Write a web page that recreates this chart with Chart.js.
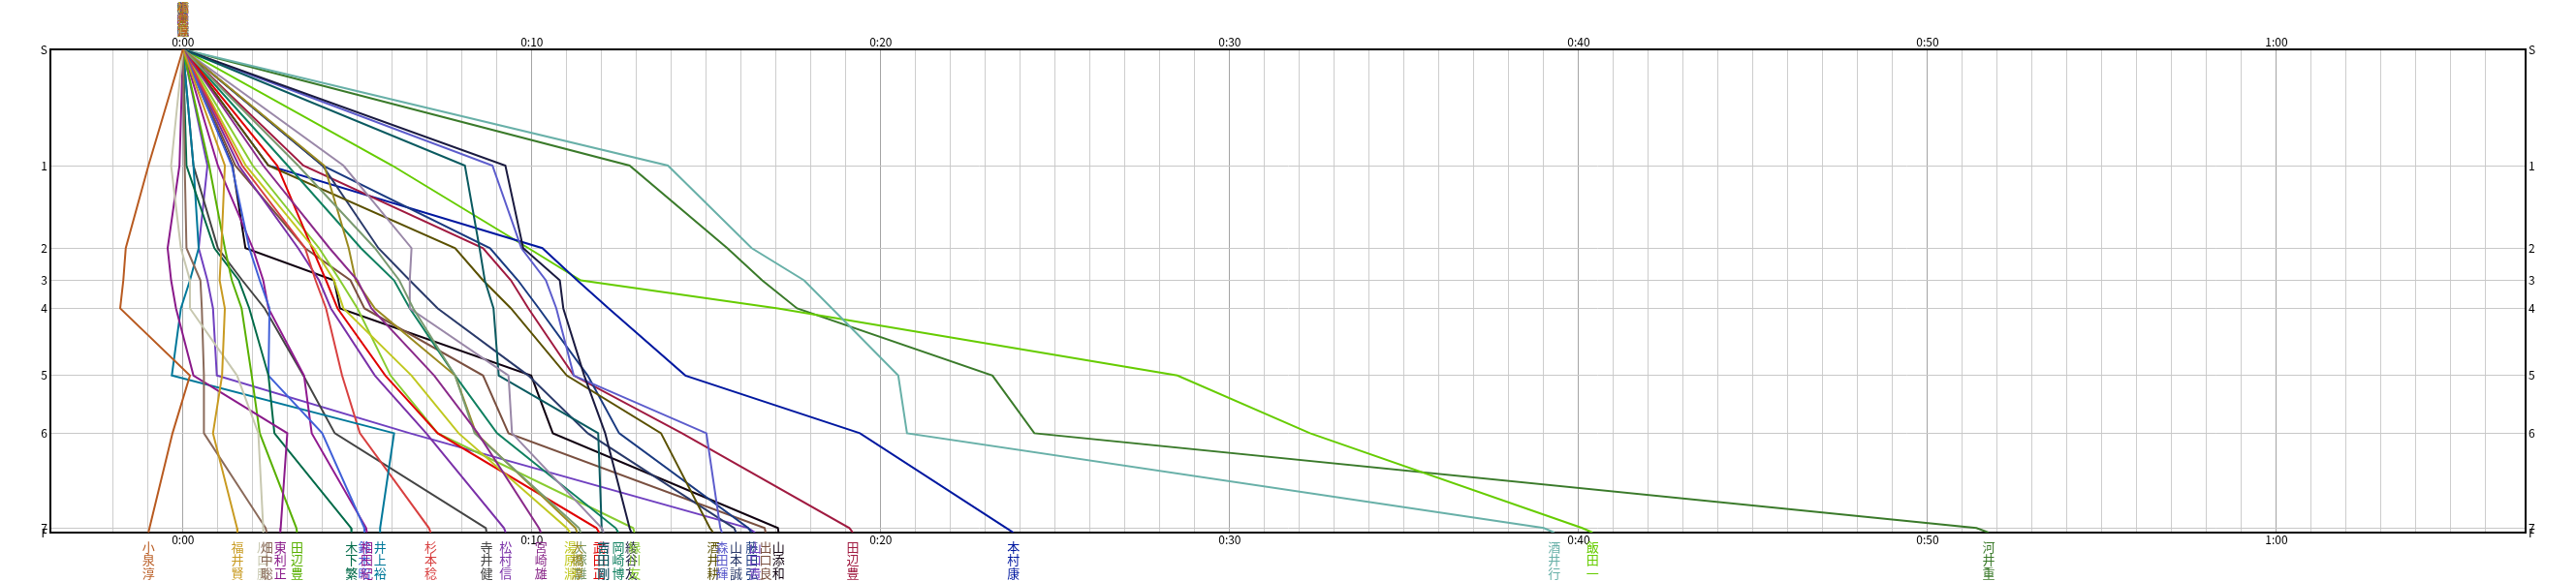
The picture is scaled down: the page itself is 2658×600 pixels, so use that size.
<!DOCTYPE html>
<html>
<head>
<meta charset="utf-8">
<script src="https://cdn.jsdelivr.net/npm/chart.js@4.4.0/dist/chart.umd.min.js"></script>
<style>
  html, body { margin: 0; padding: 0; background: #fff; }
</style>
</head>
<body>
<canvas id="splitChart" width="2658" height="600"></canvas>
<script>
// controls and their vertical position (cumulative course scale)
var controls = ['S', '1', '2', '3', '4', '5', '6', '7', 'F'];
var controlPos = [0, 120.1, 205.4, 238.7, 267.7, 337.1, 396.7, 494.7, 499.4];

var runnerNames = [
    '小泉淳', '福井賢', '川口勝', '畑中聡', '東利正', '田辺豊', '木下繁', '鈴木昭', '相田紀',
    '井上裕', '杉本稔', '寺井健', '松村信', '宮崎雄', '湯原淵', '大塚雄', '大橋淳', '武田正',
    '西田剛', '吉田剛', '岡崎博', '綾谷友', '緑川友', '酒井耕', '森田輝', '山本誠', '藤田弘',
    '山口貴', '出口良', '山添和', '田辺豊', '本村康', '酒井行', '飯田一', '河井重'
];
var runnerColors = [
    '#b85a20', '#c89a20', '#c8c8b0', '#8a6a5a', '#8a1a8a', '#58b000', '#006a48', '#4060d8', '#901a90',
    '#00789a', '#d84040', '#444444', '#7a30a8', '#8a2a8a', '#c0c820', '#7a9a70', '#9a8a20', '#e00000',
    '#9a88a8', '#0a5a60', '#108060', '#1a1a40', '#88cc30', '#5a5000', '#5c5ccc', '#2a3a6a', '#1a3a80',
    '#7040c0', '#7a5040', '#100010', '#a01a40', '#0018a0', '#68b0a8', '#66cc00', '#3a7a2a'
];
// minutes behind reference at S,1,2,3,4,5,6,7,F
var splitMinutes = [
    [0, -0.99, -1.64, -1.71, -1.8, 0.2, -0.3, -0.96, -0.99],
    [0, 1.2, 1.1, 1.05, 1.2, 1.12, 0.86, 1.55, 1.56],
    [0, -0.34, -0.06, 0.2, 0.2, 1.55, 2.16, 2.3, 2.3],
    [0, 0.05, 0.1, 0.5, 0.54, 0.6, 0.6, 2.37, 2.4],
    [0, -0.1, -0.44, -0.34, -0.2, 0.3, 2.99, 2.8, 2.79],
    [0, 0.75, 1.2, 1.4, 1.68, 1.97, 2.2, 3.25, 3.27],
    [0, 0.1, 0.9, 1.6, 1.9, 2.45, 2.62, 4.82, 4.83],
    [0, 1.4, 1.9, 2.2, 2.48, 2.45, 3.99, 5.2, 5.2],
    [0, 1.0, 2.0, 2.3, 2.45, 3.47, 3.69, 5.25, 5.27],
    [0, 0.3, 0.45, 0.2, -0.06, -0.32, 6.05, 5.65, 5.65],
    [0, 1.7, 3.5, 3.8, 4.1, 4.56, 5.07, 7.05, 7.1],
    [0, 0.3, 1.0, 1.7, 2.34, 3.45, 4.35, 8.68, 8.7],
    [0, 1.6, 3.3, 3.9, 4.24, 5.5, 6.97, 9.2, 9.25],
    [0, 2.3, 4.2, 5.0, 5.4, 7.2, 8.45, 10.2, 10.26],
    [0, 1.8, 3.75, 4.33, 4.6, 6.55, 7.9, 11.0, 11.1],
    [0, 3.3, 5.5, 6.2, 6.6, 7.8, 8.36, 11.35, 11.4],
    [0, 4.05, 4.75, 4.95, 5.5, 7.8, 8.4, 11.25, 11.3],
    [0, 2.7, 3.7, 4.1, 4.43, 5.8, 7.3, 11.85, 11.93],
    [0, 4.6, 6.55, 6.5, 6.5, 9.33, 9.43, 12.0, 12.06],
    [0, 8.08, 8.5, 8.65, 8.9, 9.05, 11.9, 12.0, 12.05],
    [0, 3.0, 5.1, 6.05, 6.5, 7.8, 9.0, 12.4, 12.48],
    [0, 9.24, 9.75, 10.8, 10.9, 11.5, 12.1, 12.8, 12.85],
    [0, 2.0, 3.9, 4.5, 5.0, 5.95, 7.3, 12.9, 12.94],
    [0, 2.45, 7.8, 8.6, 9.4, 11.0, 13.7, 15.1, 15.2],
    [0, 8.87, 9.7, 10.4, 10.7, 11.2, 15.0, 15.4, 15.45],
    [0, 4.0, 5.6, 6.5, 7.3, 9.9, 11.6, 15.8, 15.85],
    [0, 4.0, 8.8, 9.6, 10.2, 11.6, 12.5, 16.2, 16.3],
    [0, 0.7, 0.45, 0.7, 0.86, 0.97, 6.5, 16.2, 16.4],
    [0, 1.5, 3.5, 4.8, 5.2, 8.6, 9.33, 16.67, 16.7],
    [0, 1.42, 1.79, 4.33, 4.5, 9.98, 10.6, 17.05, 17.07],
    [0, 3.45, 8.6, 9.4, 9.9, 11.2, 14.3, 19.1, 19.2],
    [0, 2.45, 10.3, 11.3, 12.2, 14.4, 19.4, 23.6, 23.8],
    [0, 13.9, 16.3, 17.8, 18.6, 20.5, 20.75, 39.0, 39.3],
    [0, 6.0, 9.9, 11.4, 17.05, 28.5, 32.3, 40.1, 40.4],
    [0, 12.8, 15.6, 16.6, 17.6, 23.2, 24.4, 51.4, 51.75]
];
var timeMin = -3.8;
var timeMax = 67.14;

function fmtTime(v) {
    var m = Math.round(v);
    if (Math.abs(v - m) > 1e-6 || m % 10 !== 0 || m < 0) return '';
    return Math.floor(m / 60) + ':' + String(m % 60).padStart(2, '0');
}

function controlLabel(v) {
    var i = controlPos.indexOf(v);
    return i < 0 ? '' : controls[i];
}

var datasets = runnerNames.map(function (name, i) {
    return {
        label: name,
        data: splitMinutes[i].map(function (t, j) { return { x: t, y: controlPos[j] }; }),
        borderColor: runnerColors[i],
        backgroundColor: runnerColors[i],
        borderWidth: 2,
        pointRadius: 0,
        showLine: true,
        tension: 0,
        xAxisID: 'x',
        yAxisID: 'y'
    };
});

// runner names written vertically at start (top) and finish (bottom)
var nameLabels = {
    id: 'nameLabels',
    afterDraw: function (chart) {
        var ctx = chart.ctx;
        var xs = chart.scales.x;
        var sets = chart.data.datasets;
        ctx.save();
        ctx.textAlign = 'center';
        ctx.textBaseline = 'middle';
        // start names all pile up at 0:00, fastest drawn last
        ctx.font = "12px 'Noto Sans CJK JP'";
        sets.slice().reverse().forEach(function (ds) {
            var x0 = xs.getPixelForValue(ds.data[0].x);
            ctx.fillStyle = ds.borderColor;
            Array.from(ds.label).forEach(function (ch, k) {
                ctx.fillText(ch, x0, 8 + k * 12);
            });
        });
        ctx.font = "13px 'Noto Sans CJK JP'";
        sets.forEach(function (ds) {
            var xf = xs.getPixelForValue(ds.data[ds.data.length - 1].x);
            ctx.fillStyle = ds.borderColor;
            Array.from(ds.label).forEach(function (ch, k) {
                ctx.fillText(ch, xf, 565 + k * 13.5);
            });
        });
        ctx.restore();
    }
};

Chart.defaults.font.family = "'Noto Sans CJK JP', sans-serif";
Chart.defaults.font.size = 12;
Chart.defaults.color = '#000';

var xTicks = { stepSize: 1, autoSkip: false, maxRotation: 0, padding: 0, callback: fmtTime };
var yTicks = { autoSkip: false, padding: 3, callback: controlLabel };
function setControlTicks(s) {
    s.ticks = controlPos.map(function (v) { return { value: v }; });
}

var ctx = document.getElementById('splitChart').getContext('2d');
var myChart = new Chart(ctx, {
    type: 'scatter',
    data: { datasets: datasets },
    options: {
        responsive: false,
        animation: false,
        layout: { padding: 0 },
        plugins: { legend: { display: false }, tooltip: { enabled: false } },
        scales: {
            x: {
                type: 'linear', position: 'top', min: timeMin, max: timeMax,
                ticks: xTicks,
                grid: {
                    drawTicks: false,
                    color: function (c) {
                        return c.tick && Math.abs(c.tick.value % 10) < 1e-6 ? '#a4a4a4' : '#cdcdcd';
                    }
                },
                border: { color: '#000', width: 2 },
                afterFit: function (s) { s.height = 51; }
            },
            x2: {
                type: 'linear', position: 'bottom', min: timeMin, max: timeMax,
                ticks: xTicks,
                grid: { display: false, drawTicks: false },
                border: { color: '#000', width: 2 },
                afterFit: function (s) { s.height = 50; }
            },
            y: {
                type: 'linear', position: 'left', reverse: true, min: 0, max: 499.4,
                afterBuildTicks: setControlTicks,
                ticks: yTicks,
                grid: { drawTicks: false, color: '#c8c8c8' },
                border: { color: '#000', width: 2 },
                afterFit: function (s) { s.width = 52; }
            },
            y2: {
                type: 'linear', position: 'right', reverse: true, min: 0, max: 499.4,
                afterBuildTicks: setControlTicks,
                ticks: yTicks,
                grid: { display: false, drawTicks: false },
                border: { color: '#000', width: 2 },
                afterFit: function (s) { s.width = 52; }
            }
        }
    },
    plugins: [nameLabels]
});
</script>
</body>
</html>
